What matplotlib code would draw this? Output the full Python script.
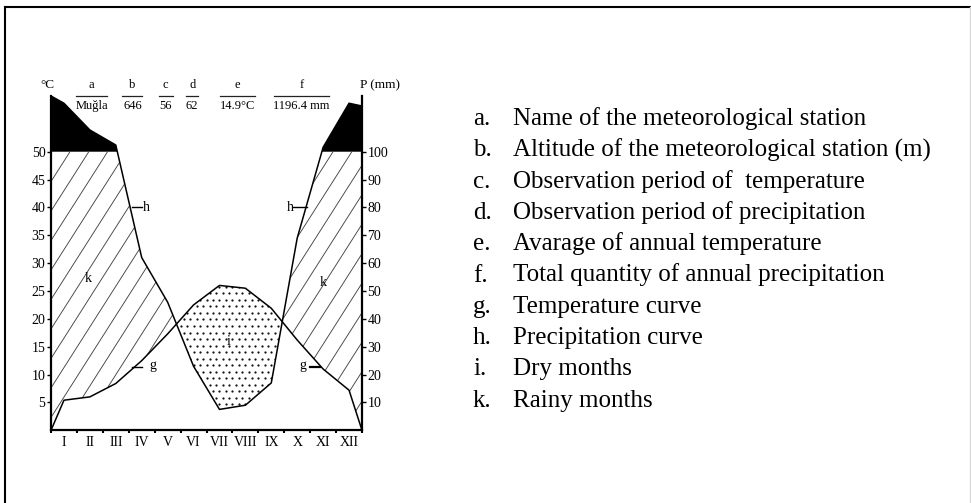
import numpy as np
import matplotlib.pyplot as plt
from matplotlib.lines import Line2D
from matplotlib.path import Path
from matplotlib.collections import LineCollection

plt.rcParams["font.family"] = ["Liberation Serif", "DejaVu Serif"]

# -------------------
# Data (Muğla)
# -------------------

months = ["I", "II", "III", "IV", "V", "VI",
          "VII", "VIII", "IX", "X", "XI", "XII"]

temperature = [5.4, 6.0, 8.4, 12.5, 17.3, 22.5,
               26.0, 25.5, 21.9, 16.2, 11.0, 7.2]

precipitation = [274, 178, 124, 62, 46, 23,
                 7.5, 9, 17, 69, 116, 274]

# values drawn at the left / right edge of the diagram
temp_ends = [0, 0]
prec_ends = [300, 264]

temp_ticks = [5, 10, 15, 20, 25, 30, 35, 40, 45, 50]
prec_ticks = [10, 20, 30, 40, 50, 60, 70, 80, 90, 100]

header_keys = ["a", "b", "c", "d", "e", "f"]
header_values = ["Muğla", "646", "56", "62", "14.9°C", "1196.4 mm"]

legend_keys = ["a.", "b.", "c.", "d.", "e.", "f.", "g.", "h.", "i.", "k."]
legend_text = [
    "Name of the meteorological station",
    "Altitude of the meteorological station (m)",
    "Observation period of  temperature",
    "Observation period of precipitation",
    "Avarage of annual temperature",
    "Total quantity of annual precipitation",
    "Temperature curve",
    "Precipitation curve",
    "Dry months",
    "Rainy months",
]


def scale_prec(p):
    # 20 mm per 10 C up to 100 mm, compressed 1/10 above
    p = np.asarray(p, dtype=float)
    return np.where(p <= 100, p / 2, 50 + (p - 100) / 20)


x = np.concatenate([[0], np.arange(12) + 0.5, [12]])
t = np.concatenate([[temp_ends[0]], temperature, [temp_ends[1]]])
p = scale_prec(np.concatenate([[prec_ends[0]], precipitation, [prec_ends[1]]]))

xd = np.linspace(0, 12, 2401)
td = np.interp(xd, x, t)
pdn = np.interp(xd, x, p)
top = np.minimum(pdn, 50)

W, H = 971, 503
fig = plt.figure(figsize=(W / 100, H / 100), dpi=100)

ax = fig.add_axes([51 / W, 1 - 430.3 / H, 311 / W, 334.3 / H])
ax.set_xlim(0, 12)
ax.set_ylim(0, 60)

# black part above 100 mm
ax.fill_between(xd, 50, pdn, where=pdn >= 50, interpolate=True,
                color="black", lw=0)

# dry months (dotted)
dry = ax.fill_between(xd, pdn, td, where=td >= pdn, interpolate=True,
                      facecolor="white", lw=0)

gx, gy = np.meshgrid(np.arange(0, 12.5, 0.25), np.arange(0, 60, 1.17))
gx = gx + (np.arange(gy.shape[0])[:, None] % 2) * 0.125
dots = ax.scatter(gx.ravel(), gy.ravel(), s=2.6, color="#111111", lw=0)
dots.set_clip_path(Path.make_compound_path(*dry.get_paths()), ax.transData)

# rainy months (hatched)
wet = ax.fill_between(xd, td, top, where=top >= td, interpolate=True,
                      facecolor="none", lw=0)

slope = 7.3
step = 0.725
segs = []
for k in range(-10, 30):
    x50 = 0.733 + k * step
    segs.append([(x50 - 50 / slope, 0), (x50 + 10 / slope, 60)])
lc = LineCollection(segs, colors="#444444", linewidths=0.65)
ax.add_collection(lc)
lc.set_clip_path(Path.make_compound_path(*wet.get_paths()), ax.transData)

ax.plot(x, t, color="black", lw=1.1)
ax.plot(x, p, color="black", lw=1.1)

# axes
ax.spines["top"].set_visible(False)
for s in ["left", "right", "bottom"]:
    ax.spines[s].set_linewidth(1.6)

ax.set_yticks(temp_ticks)
ax.set_yticklabels([str(v) for v in temp_ticks])
ax.tick_params(axis="y", direction="out", length=3, width=1,
               labelsize=10, pad=1)

ax.set_xticks(np.arange(13))
ax.set_xticklabels([""] * 13)
ax.set_xticks(np.arange(12) + 0.5, minor=True)
ax.set_xticklabels(months, minor=True)
ax.tick_params(axis="x", which="major", direction="out", length=2, width=1.5)
ax.tick_params(axis="x", which="minor", length=0, labelsize=10, pad=4)

ax2 = ax.twinx()
ax2.set_ylim(0, 60)
for s in ax2.spines.values():
    s.set_visible(False)
ax2.set_yticks(scale_prec(prec_ticks))
ax2.set_yticklabels([str(v) for v in prec_ticks])
ax2.tick_params(axis="y", direction="out", length=3, width=1,
                labelsize=10, pad=1)

# labels inside the diagram
small = dict(fontsize=10, ha="center", va="center")
ax.text(3.69, 40, "h", **small)
ax.plot([3.11, 3.50], [40, 40], color="black", lw=1)
ax.text(9.22, 40, "h", **small)
ax.plot([9.34, 9.88], [40, 40], color="black", lw=1)
ax.text(3.92, 11.6, "g", **small)
ax.plot([3.11, 3.50], [11.4, 11.4], color="black", lw=1)
ax.text(9.71, 11.6, "g", **small)
ax.plot([10.0, 10.38], [11.4, 11.4], color="black", lw=1.6)
ax.text(1.44, 27.3, "k", **small)
ax.text(10.5, 26.5, "k", **small)
ax.text(6.84, 15.9, "i", **small)

# header above the diagram
centers = [1.57, 3.14, 4.43, 5.45, 7.19, 9.67]
halfw = [0.61, 0.39, 0.27, 0.24, 0.68, 1.06]
for key, val, cx, hw in zip(header_keys, header_values, centers, halfw):
    ax.text(cx, 62.0, key, fontsize=9, ha="center", va="center",
            clip_on=False)
    ax.text(cx, 58.2, val, fontsize=9, ha="center", va="center",
            clip_on=False)
    ax.plot([cx - hw, cx + hw], [60.05, 60.05], color="#222222", lw=0.9,
            clip_on=False)
ax.text(-0.12, 62.0, "°C", fontsize=9.5, ha="center", va="center",
        clip_on=False)
ax.text(11.92, 62.0, "P (mm)", fontsize=9.5, ha="left", va="center",
        clip_on=False)

# explanation list
for i, (key, txt) in enumerate(zip(legend_keys, legend_text)):
    yb = 1 - (125 + i * 31.3) / H
    fig.text(473 / W, yb, key, fontsize=18, ha="left", va="baseline")
    fig.text(512.7 / W, yb, txt, fontsize=18, ha="left", va="baseline")

# frame
fig.add_artist(Line2D([5 / W, 5 / W], [0, 1 - 7 / H], color="black", lw=1.5))
fig.add_artist(Line2D([5 / W, 1], [1 - 7 / H, 1 - 7 / H], color="black", lw=1.5))
fig.add_artist(Line2D([969.5 / W, 969.5 / W], [0, 1 - 7 / H], color="#d8d8d8", lw=1))

fig.savefig("out.png", dpi=100)
